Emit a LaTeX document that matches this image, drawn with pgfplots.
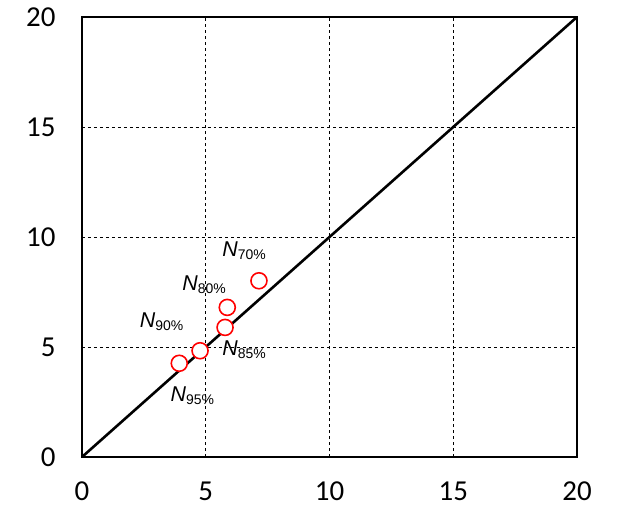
\documentclass[border=0pt]{standalone}
\usepackage{pgfplots}
\pgfplotsset{compat=1.18}
\usepackage{fontspec}
\setmainfont{Carlito}
\newfontfamily\arialf{Liberation Sans}
\newcommand{\lab}[1]{{\arialf\fontsize{21.5}{22}\selectfont\textit{N}\raisebox{-0.25ex}{\fontsize{14}{14}\selectfont #1\%}}}
\begin{document}
\begin{tikzpicture}
\begin{axis}[
  scale only axis,
  width=495bp, height=440bp,
  xmin=0, xmax=20, ymin=0, ymax=20,
  xtick={0,5,10,15,20}, ytick={0,5,10,15,20},
  major tick length=0pt,
  grid=major,
  major grid style={black, dashed, line width=0.8pt},
  axis line style={black, line width=1.6pt},
  tick label style={font=\fontsize{29}{30}\selectfont},
  /pgf/number format/assume math mode=true,
  xticklabel style={yshift=-21bp},
  yticklabel style={xshift=-23bp},
  clip=false,
]
\addplot[black, line width=2.6pt, no marks] coordinates {(0,0) (20,20)};
\addplot[only marks, mark=*, mark size=8bp, mark options={draw=red, fill=white, line width=1.6pt}]
  coordinates {(7.15,8.01) (5.87,6.80) (5.78,5.89) (4.77,4.83) (3.93,4.26)};
\node at (axis cs:6.55,9.36) {\lab{70}};
\node at (axis cs:4.93,7.82) {\lab{80}};
\node at (axis cs:3.22,6.15) {\lab{90}};
\node at (axis cs:6.55,4.86) {\lab{85}};
\node at (axis cs:4.46,2.77) {\lab{95}};
\end{axis}
\pgfresetboundingbox
\path ([xshift=-82bp,yshift=-56bp]current axis.south west) rectangle ([xshift=48bp,yshift=17bp]current axis.north east);
\end{tikzpicture}
\end{document}
